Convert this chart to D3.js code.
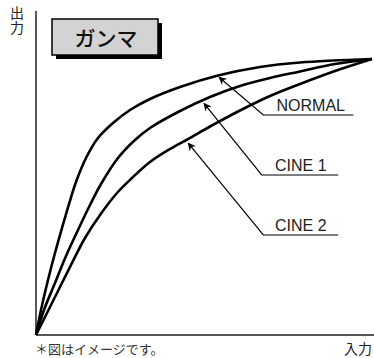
<!DOCTYPE html>
<html><head><meta charset="utf-8">
<script src="https://cdn.jsdelivr.net/npm/d3@7/dist/d3.min.js"></script>
<style>html,body{margin:0;padding:0;background:#fff;}svg{display:block;}</style>
</head><body>
<script>
// ---- data (input %, output %) ----
const inputNormal  = [0, 1.49, 3.57, 5.65, 7.74, 9.82, 11.90, 14.88, 18.45, 22.92, 27.98, 33.93, 42.86, 54.17, 66.67, 78.57, 100];
const outputNormal = [0, 9.06, 19.93, 29.71, 38.77, 47.46, 55.43, 64.13, 71.38, 76.81, 81.52, 85.51, 89.86, 94.02, 97.10, 98.73, 100];
const inputCine1   = [0, 2.38, 5.65, 8.93, 12.50, 16.07, 19.35, 24.40, 29.46, 33.93, 42.86, 51.79, 60.71, 69.64, 78.57, 88.99, 100];
const outputCine1  = [0, 9.06, 18.84, 28.62, 38.04, 47.10, 54.71, 64.13, 70.65, 75.00, 81.16, 86.23, 90.22, 93.12, 95.47, 98.19, 100];
const inputCine2   = [0, 3.57, 7.14, 10.71, 14.58, 19.05, 24.11, 28.57, 33.93, 39.88, 45.24, 51.79, 60.71, 69.64, 78.57, 88.99, 100];
const outputCine2  = [0, 8.70, 17.39, 26.09, 35.14, 43.48, 51.45, 56.88, 62.68, 67.39, 71.01, 75.54, 81.34, 86.59, 90.94, 95.65, 100];
const seriesNames  = ["NORMAL", "CINE 1", "CINE 2"];
// arrow tips (data coords) for each label
const tipInput  = [54.5, 50.0, 45.3];
const tipOutput = [93.4, 83.9, 69.5];

const title = "ガンマ";
const yLabel = "出力";
const xLabel = "入力";
const note = "＊図はイメージです。";

const W = 374, H = 358;
const svg = d3.select("body").append("svg").attr("width", W).attr("height", H);

const x = d3.scaleLinear().domain([0, 100]).range([36, 372]);
const y = d3.scaleLinear().domain([0, 100]).range([335, 59]);

// axes
svg.append("line").attr("x1", 36).attr("x2", 36).attr("y1", 11).attr("y2", 335)
  .attr("stroke", "#111").attr("stroke-width", 1.4);
svg.append("line").attr("x1", 36).attr("x2", 374).attr("y1", 335).attr("y2", 335)
  .attr("stroke", "#555").attr("stroke-width", 2);

// curves
const series = [
  inputNormal.map((d, i) => [d, outputNormal[i]]),
  inputCine1.map((d, i) => [d, outputCine1[i]]),
  inputCine2.map((d, i) => [d, outputCine2[i]])
];
const line = d3.line().x(d => x(d[0])).y(d => y(d[1])).curve(d3.curveCatmullRom.alpha(0.5));
svg.selectAll("path.curve").data(series).join("path").attr("class", "curve")
  .attr("d", line).attr("fill", "none").attr("stroke", "#000")
  .attr("stroke-width", 2.6).attr("stroke-linejoin", "round");

// arrow marker
svg.append("defs").append("marker").attr("id", "ah")
  .attr("viewBox", "0 0 10 10").attr("refX", 9).attr("refY", 5)
  .attr("markerWidth", 8).attr("markerHeight", 8).attr("markerUnits", "userSpaceOnUse")
  .attr("orient", "auto-start-reverse")
  .append("path").attr("d", "M0,0 L10,5 L0,10 L3,5 Z").attr("fill", "#000");

// annotation layout (pixels)
const elbowX = [263.3, 261.7, 263.3];
const elbowY = [115, 175, 235];
const endX   = [353.3, 338.3, 338.3];
const labelX = [276.5, 275, 275];

seriesNames.forEach((name, i) => {
  svg.append("polyline")
    .attr("points", `${endX[i]},${elbowY[i]} ${elbowX[i]},${elbowY[i]} ${x(tipInput[i])},${y(tipOutput[i])}`)
    .attr("fill", "none").attr("stroke", "#000").attr("stroke-width", 1.2)
    .attr("marker-end", "url(#ah)");
  svg.append("text").attr("x", labelX[i]).attr("y", elbowY[i] - 4.5)
    .attr("font-family", "Liberation Sans, Arial, sans-serif").attr("font-size", 16)
    .attr("fill", "#222").text(name);
});

// title box
svg.append("rect").attr("x", 56).attr("y", 23).attr("width", 106).attr("height", 36).attr("fill", "#000");
svg.append("rect").attr("x", 52).attr("y", 19).attr("width", 106).attr("height", 36)
  .attr("fill", "#d3d3d3").attr("stroke", "#000").attr("stroke-width", 1.5);
svg.append("text").attr("x", 106).attr("y", 45.5).attr("text-anchor", "middle")
  .attr("font-family", "Noto Sans CJK JP, sans-serif").attr("font-size", 21).attr("font-weight", 500)
  .attr("fill", "#111").text(title);

// y label (vertical)
svg.append("text").attr("x", 17).attr("y", 6)
  .style("writing-mode", "vertical-rl").style("text-orientation", "upright")
  .attr("font-family", "Noto Sans CJK JP, sans-serif").attr("font-size", 14)
  .attr("letter-spacing", 1)
  .attr("fill", "#222").text(yLabel);

// x label
svg.append("text").attr("x", 372).attr("y", 353.5).attr("text-anchor", "end")
  .attr("font-family", "Noto Sans CJK JP, sans-serif").attr("font-size", 14)
  .attr("fill", "#222").text(xLabel);

// note
svg.append("text").attr("x", 35).attr("y", 353.5)
  .attr("font-family", "Noto Sans CJK JP, sans-serif").attr("font-size", 13)
  .attr("fill", "#333").text(note);
</script>
</body></html>
